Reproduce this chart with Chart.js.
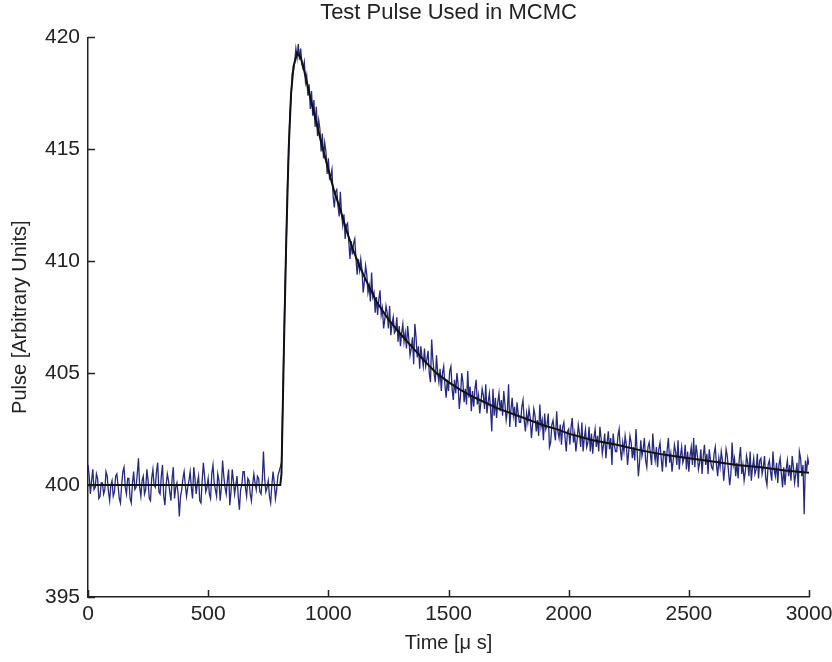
<!DOCTYPE html>
<html>
<head>
<meta charset="utf-8">
<script src="https://cdn.jsdelivr.net/npm/chart.js@4"></script>
<style>
  body { margin: 0; background: #fff; }
  #wrap { width: 832px; height: 662px; }
</style>
</head>
<body>
<div id="wrap"><canvas id="grafico"></canvas></div>
<script>
// measured pulse, one sample every 5 µs from 0 to 3000 (one row = 100 µs)
const sampleStep = 5
const pulse = [
  400.9, 400.4, 399.6, 400.2, 400.7, 399.8, 399.9, 400.5, 400.3, 399.4, 399.5, 400.1, 400.1, 399.6, 399.8, 400.6, 400.4, 399.7, 399.3, 400.0,
  400.2, 399.5, 399.7, 400.4, 400.5, 400.0, 399.4, 399.2, 400.0, 400.6, 400.8, 399.9, 399.6, 400.3, 400.3, 399.4, 399.2, 400.1, 400.6, 399.8,
  399.9, 400.5, 401.2, 399.9, 399.5, 400.2, 400.4, 399.6, 399.8, 400.7, 400.2, 399.4, 399.3, 400.3, 400.7, 400.0, 399.9, 400.6, 401.0, 399.7,
  399.6, 400.4, 400.9, 399.5, 399.1, 400.0, 400.5, 400.2, 399.7, 399.3, 400.3, 400.8, 399.4, 399.9, 400.1, 399.6, 398.6, 399.5, 399.8, 400.3,
  400.6, 400.0, 399.5, 399.9, 400.2, 400.6, 399.9, 399.4, 400.8, 400.3, 399.6, 400.1, 400.4, 399.3, 399.2, 400.2, 401.0, 400.4, 399.7, 399.9,
  400.3, 399.6, 399.4, 400.5, 400.9, 400.1, 399.8, 399.5, 400.5, 400.2, 399.3, 399.9, 401.1, 400.4, 399.9, 399.6, 400.2, 400.7, 399.1, 399.7,
  400.7, 400.2, 399.6, 400.0, 400.4, 399.5, 398.9, 399.8, 400.0, 400.6, 400.6, 399.9, 399.5, 400.3, 400.2, 399.6, 399.3, 400.0, 400.5, 400.1,
  399.8, 400.4, 400.3, 399.7, 399.6, 400.2, 401.5, 400.3, 399.7, 399.9, 400.2, 399.5, 399.2, 400.0, 400.6, 400.1, 399.4, 399.8, 400.4, 400.6,
  400.8, 401.0, 403.4, 406.3, 408.9, 410.8, 413.4, 414.8, 416.6, 417.3, 418.4, 418.5, 418.9, 419.5, 419.1, 419.7, 419.0, 419.5, 418.8, 418.6,
  418.9, 418.0, 418.3, 417.4, 417.9, 416.8, 417.6, 416.5, 417.2, 416.0, 416.9, 415.6, 416.3, 415.9, 414.9, 415.7, 414.6, 415.3, 414.9, 413.9,
  414.6, 413.7, 413.8, 414.1, 412.9, 412.4, 413.1, 413.2, 412.5, 412.0, 413.1, 412.1, 411.6, 412.1, 411.0, 411.6, 411.7, 410.9, 410.1, 410.9,
  410.3, 410.8, 411.0, 410.1, 409.4, 410.1, 409.6, 410.1, 409.6, 408.6, 409.1, 409.8, 409.4, 408.6, 408.9, 408.2, 409.5, 408.4, 408.6, 407.7,
  408.4, 407.6, 408.3, 408.7, 407.6, 407.9, 407.0, 407.4, 408.0, 407.7, 407.0, 408.0, 406.7, 407.2, 407.5, 406.8, 406.9, 407.5, 406.4, 407.1,
  406.2, 406.8, 407.2, 406.4, 406.8, 406.1, 407.1, 406.5, 405.8, 406.1, 406.6, 405.4, 407.2, 406.6, 405.7, 406.2, 405.2, 406.2, 405.7, 405.3,
  406.1, 405.3, 405.6, 406.0, 405.0, 404.6, 406.5, 405.6, 405.0, 404.6, 405.8, 405.0, 404.6, 405.2, 404.2, 405.0, 405.3, 404.5, 403.9, 404.7,
  404.2, 405.1, 405.3, 404.3, 403.8, 404.7, 404.1, 405.0, 404.5, 403.4, 404.0, 405.0, 404.6, 403.7, 404.3, 403.6, 405.1, 403.9, 404.4, 403.3,
  404.2, 403.5, 404.3, 404.7, 403.6, 404.0, 403.2, 403.7, 404.3, 404.0, 403.4, 404.5, 403.2, 403.7, 404.1, 403.4, 402.4, 404.3, 403.1, 403.9,
  403.0, 403.7, 404.1, 403.3, 403.8, 403.1, 404.2, 403.6, 402.9, 403.3, 404.5, 402.6, 403.4, 403.9, 403.1, 403.5, 402.6, 403.7, 403.2, 402.8,
  402.8, 403.5, 403.8, 402.9, 402.4, 403.2, 402.8, 403.4, 403.0, 402.1, 402.7, 403.4, 403.1, 402.4, 402.9, 402.2, 403.6, 402.6, 402.9, 402.0,
  403.2, 402.5, 402.7, 403.2, 401.7, 401.9, 402.7, 402.9, 402.4, 402.0, 403.3, 402.4, 402.1, 402.7, 401.8, 402.6, 402.8, 402.1, 401.5, 402.4,
  402.5, 401.8, 402.6, 403.0, 401.9, 402.3, 401.5, 402.0, 402.7, 402.3, 401.7, 402.8, 401.5, 402.1, 402.5, 401.7, 401.9, 402.6, 401.5, 402.3,
  401.4, 402.1, 402.5, 401.7, 402.2, 401.5, 402.6, 402.1, 401.4, 401.8, 402.3, 401.2, 401.9, 402.4, 401.6, 402.1, 400.9, 402.3, 401.8, 401.5,
  401.5, 402.2, 402.5, 401.6, 401.1, 401.9, 401.5, 402.2, 401.8, 400.9, 401.5, 402.2, 401.9, 401.2, 401.7, 401.1, 402.5, 401.5, 400.4, 401.0,
  402.0, 401.3, 401.6, 402.1, 401.1, 400.8, 401.7, 401.9, 401.4, 400.9, 402.3, 401.5, 401.1, 401.7, 400.8, 401.6, 401.9, 401.2, 400.6, 401.5,
  401.5, 400.8, 401.6, 402.1, 401.0, 401.4, 400.6, 401.1, 401.8, 401.5, 400.9, 402.0, 400.7, 401.3, 401.7, 401.0, 401.2, 401.8, 400.7, 401.5,
  400.6, 401.3, 401.7, 400.9, 402.1, 400.8, 401.8, 401.4, 400.7, 401.0, 401.6, 400.5, 401.3, 401.8, 400.9, 401.4, 400.5, 401.6, 401.1, 400.8,
  400.7, 401.4, 401.7, 400.9, 400.4, 401.2, 400.8, 401.5, 401.1, 400.2, 400.8, 401.6, 401.3, 400.6, 400.0, 400.5, 401.9, 400.9, 401.2, 400.4,
  401.0, 400.3, 401.2, 401.7, 400.5, 400.9, 400.2, 400.6, 401.3, 401.0, 400.4, 401.5, 400.2, 400.8, 401.2, 400.5, 400.7, 401.4, 400.3, 401.1,
  401.2, 400.5, 400.8, 401.3, 400.3, 400.0, 400.9, 401.1, 400.6, 400.2, 401.5, 400.7, 400.4, 401.0, 400.1, 400.9, 401.2, 400.5, 399.9, 400.8,
  400.0, 400.7, 401.1, 400.4, 400.9, 400.2, 401.3, 400.8, 400.1, 400.5, 401.0, 399.9, 401.5, 401.2, 400.4, 400.9, 398.7, 401.1, 400.6, 401.2,
  400.9
]

// fitted pulse shape (black curve)
const fitTime = [0, 800, 805, 815, 825, 835, 845, 855, 870, 885, 900, 925, 950, 975,
  1000, 1025, 1050, 1075, 1100, 1125, 1150, 1200, 1250, 1300, 1350, 1400, 1450,
  1500, 1550, 1600, 1650, 1700, 1750, 1800, 1850, 1900, 1950, 2000, 2100, 2200,
  2300, 2400, 2500, 2600, 2700, 2800, 2900, 3000]
const fitValue = [400.0, 400.0, 400.5, 406.0, 411.0, 415.0, 417.5, 418.7, 419.3, 419.1, 418.5, 417.3, 416.2, 415.1,
  414.1, 413.1, 412.3, 411.4, 410.6, 409.9, 409.3, 408.2, 407.4, 406.75, 406.15, 405.55, 405.0,
  404.6, 404.25, 403.95, 403.7, 403.45, 403.25, 403.05, 402.85, 402.65, 402.5, 402.3, 402.0, 401.8,
  401.55, 401.35, 401.2, 401.05, 400.9, 400.8, 400.65, 400.55]

const xMin = 0, xMax = 3000, xStep = 500
const yMin = 395, yMax = 420, yStep = 5

const pulsePts = pulse.map((v, i) => ({ x: i * sampleStep, y: v }))
const fitPts = fitTime.map((t, i) => ({ x: t, y: fitValue[i] }))

const fonte = 'Liberation Sans, Arial, Helvetica, sans-serif'

// matlab style ticks pointing into the plot
const ticksDentro = {
  id: 'ticksDentro',
  afterDatasetsDraw(chart) {
    const c = chart.ctx
    const a = chart.chartArea
    const sx = chart.scales.x, sy = chart.scales.y
    c.save()
    c.strokeStyle = '#222'
    c.lineWidth = 1.5
    c.beginPath()
    sx.ticks.forEach(t => {
      const p = Math.round(sx.getPixelForValue(t.value)) + 0.5
      c.moveTo(p, a.bottom); c.lineTo(p, a.bottom - 7)
    })
    sy.ticks.forEach(t => {
      const p = Math.round(sy.getPixelForValue(t.value)) + 0.5
      c.moveTo(a.left, p); c.lineTo(a.left + 7, p)
    })
    c.stroke()
    c.restore()
  }
}

const ctx = document.getElementById('grafico')

let grafico = new Chart(ctx, {
  type: 'line',
  data: {
    datasets: [{
      label: 'Fit',
      data: fitPts,
      borderColor: '#111',
      borderWidth: 2,
      pointRadius: 0,
      tension: 0
    }, {
      label: 'Pulse',
      data: pulsePts,
      borderColor: '#272a7c',
      borderWidth: 1.3,
      pointRadius: 0,
      tension: 0
    }]
  },
  options: {
    responsive: true,
    maintainAspectRatio: false,
    animation: false,
    layout: { padding: { left: 0, right: 23, top: 0, bottom: 0 } },
    plugins: {
      legend: { display: false },
      tooltip: { enabled: false },
      title: {
        display: true,
        fullSize: false,
        text: 'Test Pulse Used in MCMC',
        color: '#222',
        font: { family: fonte, size: 22, weight: 'normal' },
        padding: { top: 0, bottom: 11 }
      }
    },
    scales: {
      x: {
        type: 'linear',
        min: xMin,
        max: xMax,
        ticks: { stepSize: xStep, color: '#222', padding: 5, maxRotation: 0,
          font: { family: fonte, size: 21 }, callback: v => String(v) },
        grid: { display: false, drawTicks: false },
        border: { display: true, color: '#222', width: 1.5 },
        title: { display: true, text: 'Time [μ s]', color: '#222',
          font: { family: fonte, size: 20 }, padding: { top: 0, bottom: 7 } },
        afterFit: (s) => { s.height = 65; s.paddingLeft = 0; s.paddingRight = 0 }
      },
      y: {
        min: yMin,
        max: yMax,
        ticks: { stepSize: yStep, color: '#222', padding: 8,
          font: { family: fonte, size: 21 }, callback: v => String(v) },
        grid: { display: false, drawTicks: false },
        border: { display: true, color: '#222', width: 1.5 },
        title: { display: true, text: 'Pulse [Arbitrary Units]', color: '#222',
          font: { family: fonte, size: 20 }, padding: { top: 8, bottom: 0 } },
        afterFit: (s) => { s.width = 88; s.paddingTop = 0; s.paddingBottom = 0 }
      }
    }
  },
  plugins: [ticksDentro]
})
</script>
</body>
</html>
